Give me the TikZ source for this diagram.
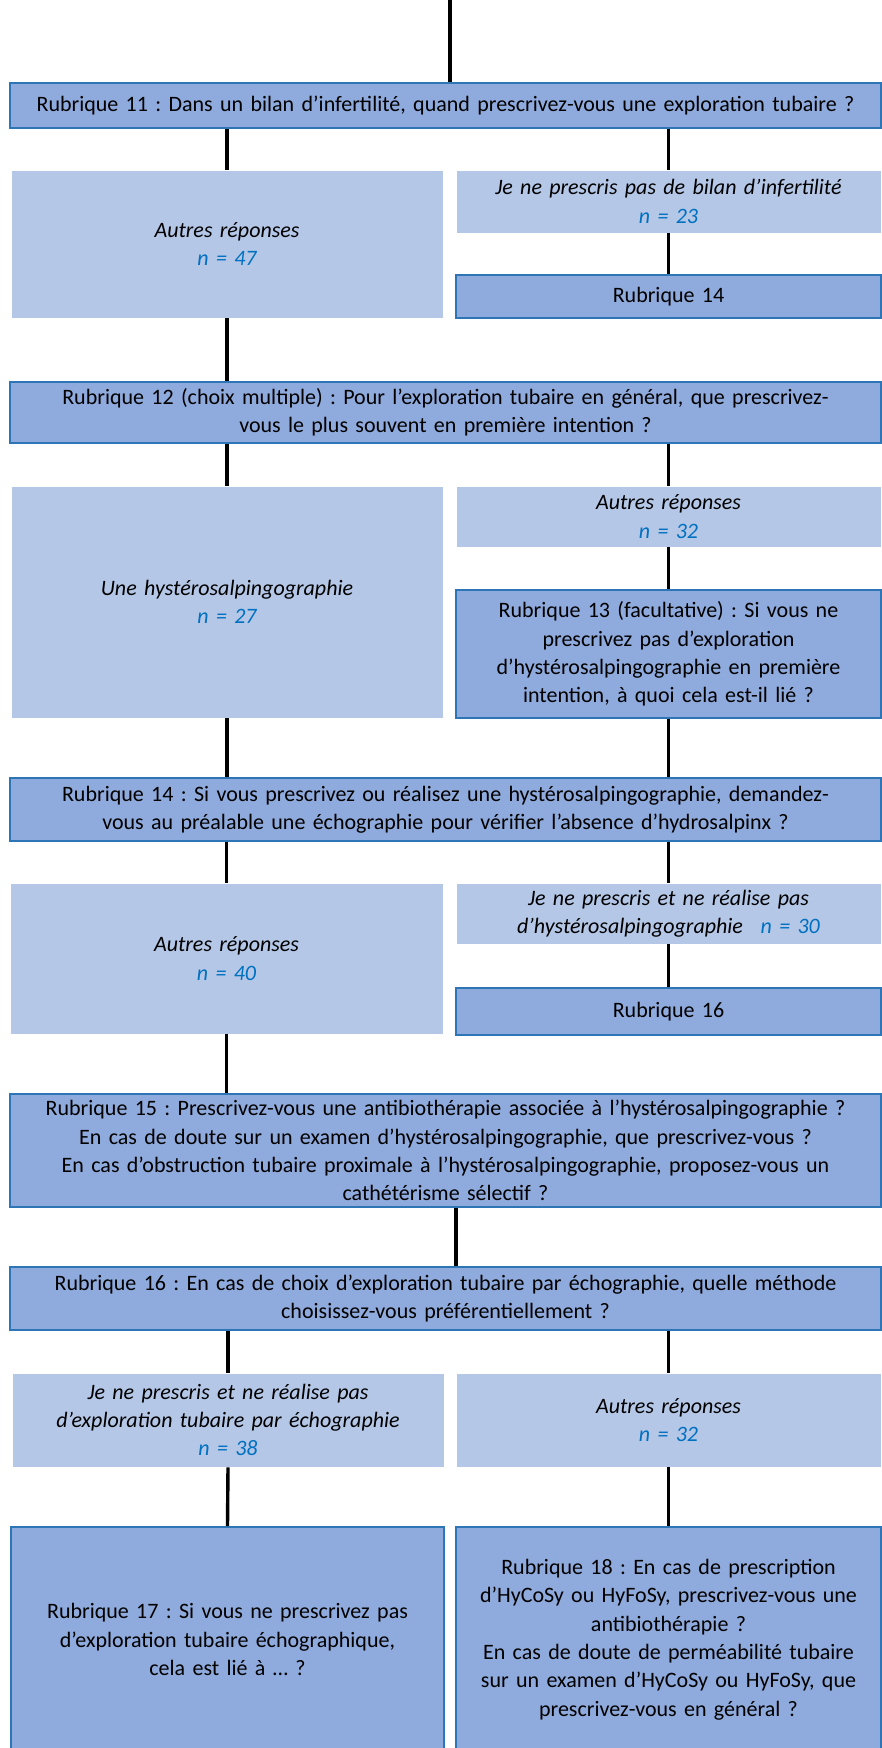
\documentclass[tikz,border=0pt]{standalone}
\usepackage{fontspec}
\setmainfont{Carlito}
\frenchspacing
\definecolor{darkfill}{HTML}{8FAADC}
\definecolor{lightfill}{HTML}{B4C7E7}
\definecolor{edgeblue}{HTML}{2E75B6}
\definecolor{nblue}{HTML}{0070C0}
\newcommand{\nval}[1]{\textcolor{nblue}{\textit{n = #1}}}
\tikzset{
  box/.style={rectangle, inner sep=2pt, align=center, font=\fontsize{22}{28.3}\selectfont},
  darkbox/.style={box, fill=darkfill, draw=edgeblue, line width=1.6pt},
  lightbox/.style={box, fill=lightfill, draw=white, line width=0.6pt, font=\fontsize{22}{28.3}\selectfont\itshape},
  link/.style={draw=black, line width=3.4pt}
}
% place a box by its corners: #1 style, #2 name, x1,y1,x2,y2, text
\newcommand{\boxat}[7]{%
  \node[#1, minimum width={(#5)-(#3)}, minimum height={(#6)-(#4)}, text width={(#5)-(#3)-4}]
    (#2) at ({((#3)+(#5))/2},{((#4)+(#6))/2}) {#7};}
\begin{document}
\begin{tikzpicture}[x=1pt,y=-1pt]
\useasboundingbox (0,0) rectangle (882,1748);
\boxat{darkbox}{R11}{10}{83}{881}{128}{Rubrique 11 : Dans un bilan d’infertilité, quand prescrivez-vous une exploration tubaire ?}
\boxat{lightbox}{A47}{11}{170}{443}{318}{Autres réponses\\ \nval{47}}
\boxat{lightbox}{J23}{456}{170}{881}{233}{Je ne prescris pas de bilan d’infertilité\\ \nval{23}}
\boxat{darkbox}{R14a}{456}{275}{881}{318}{Rubrique 14}
\boxat{darkbox}{R12}{10}{382}{881}{443}{Rubrique 12 (choix multiple) : Pour l’exploration tubaire en général, que prescrivez-\\vous le plus souvent en première intention ?}
\boxat{lightbox}{H27}{11}{486}{443}{718}{Une hystérosalpingographie\\ \nval{27}}
\boxat{lightbox}{A32}{456}{486}{881}{547}{Autres réponses\\ \nval{32}}
\boxat{darkbox}{R13}{456}{590}{881}{718}{Rubrique 13 (facultative) : Si vous ne\\prescrivez pas d’exploration\\d’hystérosalpingographie en première\\intention, à quoi cela est-il lié ?}
\boxat{darkbox}{R14}{10}{778}{881}{841}{Rubrique 14 : Si vous prescrivez ou réalisez une hystérosalpingographie, demandez-\\vous au préalable une échographie pour vérifier l’absence d’hydrosalpinx ?}
\boxat{lightbox}{A40}{10}{883}{443}{1034}{Autres réponses\\ \nval{40}}
\boxat{lightbox}{J30}{456}{883}{881}{944}{Je ne prescris et ne réalise pas\\d’hystérosalpingographie\hspace{0.8em}\nval{30}}
\boxat{darkbox}{R16a}{456}{988}{881}{1035}{Rubrique 16}
\boxat{darkbox}{R15}{10}{1094}{881}{1207}{Rubrique 15 : Prescrivez-vous une antibiothérapie associée à l’hystérosalpingographie ?\\En cas de doute sur un examen d’hystérosalpingographie, que prescrivez-vous ?\\En cas d’obstruction tubaire proximale à l’hystérosalpingographie, proposez-vous un\\cathétérisme sélectif ?}
\boxat{darkbox}{R16}{10}{1267}{881}{1330}{Rubrique 16 : En cas de choix d’exploration tubaire par échographie, quelle méthode\\choisissez-vous préférentiellement ?}
\boxat{lightbox}{J38}{12}{1373}{444}{1467}{Je ne prescris et ne réalise pas\\d’exploration tubaire par échographie\\ \nval{38}}
\boxat{lightbox}{A32b}{456}{1373}{881}{1467}{Autres réponses\\ \nval{32}}
\boxat{darkbox}{R17}{11}{1527}{444}{1752}{Rubrique 17 : Si vous ne prescrivez pas\\d’exploration tubaire échographique,\\cela est lié à … ?}
\boxat{darkbox}{R18}{456}{1527}{881}{1752}{Rubrique 18 : En cas de prescription\\d’HyCoSy ou HyFoSy, prescrivez-vous une\\antibiothérapie ?\\En cas de doute de perméabilité tubaire\\sur un examen d’HyCoSy ou HyFoSy, que\\prescrivez-vous en général ?}
% connectors
\coordinate (top) at (450,0);
\draw[link] (top) -- (top |- R11.north);
\draw[link] (A47.north |- R11.south) -- (A47.north);
\draw[link] (J23.north |- R11.south) -- (J23.north);
\draw[link] (J23.south) -- (R14a.north);
\draw[link] (A47.south) -- (A47.south |- R12.north);
\draw[link] (H27.north |- R12.south) -- (H27.north);
\draw[link] (A32.north |- R12.south) -- (A32.north);
\draw[link] (A32.south) -- (R13.north);
\draw[link] (H27.south) -- (H27.south |- R14.north);
\draw[link] (R13.south) -- (R13.south |- R14.north);
\draw[link] (A40.north |- R14.south) -- (A40.north);
\draw[link] (J30.north |- R14.south) -- (J30.north);
\draw[link] (J30.south) -- (R16a.north);
\draw[link] (A40.south) -- (A40.south |- R15.north);
\draw[link] ([xshift=10.5pt]R15.south) -- ([xshift=10.5pt]R16.north);
\draw[link] (J38.north |- R16.south) -- (J38.north);
\draw[link] (A32b.north |- R16.south) -- (A32b.north);
\draw[link] (J38.south) -- (R17.north);
\draw[link] (A32b.south) -- (R18.north);
\end{tikzpicture}
\end{document}
